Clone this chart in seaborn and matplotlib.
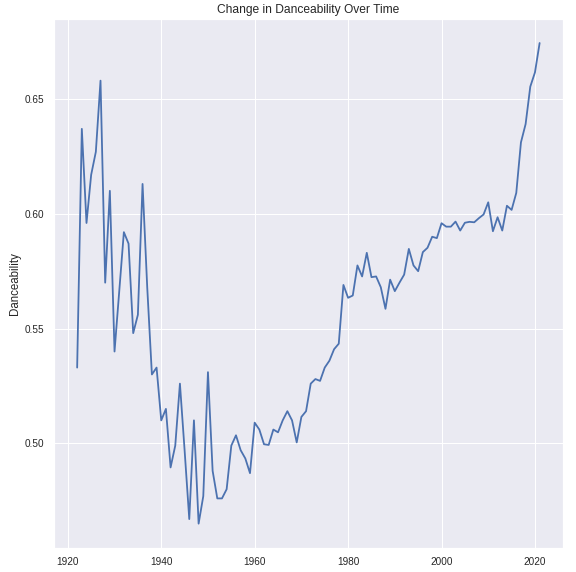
import pandas as pd
import seaborn as sns
import matplotlib
matplotlib.use('Agg')
import matplotlib.pyplot as plt

# Yearly average danceability
years = list(range(1922, 2022))
danceability = [
    0.533, 0.637, 0.596, 0.617, 0.627, 0.658, 0.570, 0.610, 0.540, 0.566,  # 1922-1931
    0.592, 0.587, 0.548, 0.556, 0.613, 0.568, 0.530, 0.533, 0.510, 0.515,  # 1932-1941
    0.4895, 0.499, 0.526, 0.497, 0.467, 0.510, 0.465, 0.477, 0.531, 0.488,  # 1942-1951
    0.476, 0.476, 0.480, 0.499, 0.5035, 0.497, 0.4934, 0.487, 0.509, 0.506,  # 1952-1961
    0.4996, 0.4993, 0.506, 0.5048, 0.510, 0.514, 0.510, 0.5004, 0.5115, 0.514,  # 1962-1971
    0.526, 0.528, 0.5272, 0.533, 0.536, 0.541, 0.5434, 0.569, 0.5634, 0.5644,  # 1972-1981
    0.5775, 0.5727, 0.583, 0.5724, 0.5727, 0.568, 0.5586, 0.5713, 0.5663, 0.570,  # 1982-1991
    0.5735, 0.5847, 0.5775, 0.575, 0.5833, 0.5852, 0.590, 0.5894, 0.5959, 0.5944,  # 1992-2001
    0.5944, 0.5966, 0.5927, 0.5961, 0.5965, 0.5963, 0.5981, 0.5997, 0.605, 0.5924,  # 2002-2011
    0.5985, 0.5927, 0.6035, 0.6017, 0.6091, 0.6311, 0.6391, 0.6554, 0.6616, 0.6744,  # 2012-2021
]

data = pd.DataFrame({'year': years, 'danceability': danceability})

sns.set_theme(style="darkgrid")
plt.rcParams['font.family'] = ['Liberation Sans', 'DejaVu Sans']

fig, ax = plt.subplots(figsize=(8, 572 / 72), dpi=72)
fig.subplots_adjust(left=0.0938, right=0.977, bottom=0.0425, top=0.9668)

sns.lineplot(data=data, x='year', y='danceability', ax=ax, linewidth=1.8)
ax.set_title('Change in Danceability Over Time', fontsize=12)
ax.set_xlabel('')
ax.set_ylabel('Danceability', fontsize=11.5)
ax.tick_params(labelsize=10)

fig.savefig('out.png', dpi=72)
